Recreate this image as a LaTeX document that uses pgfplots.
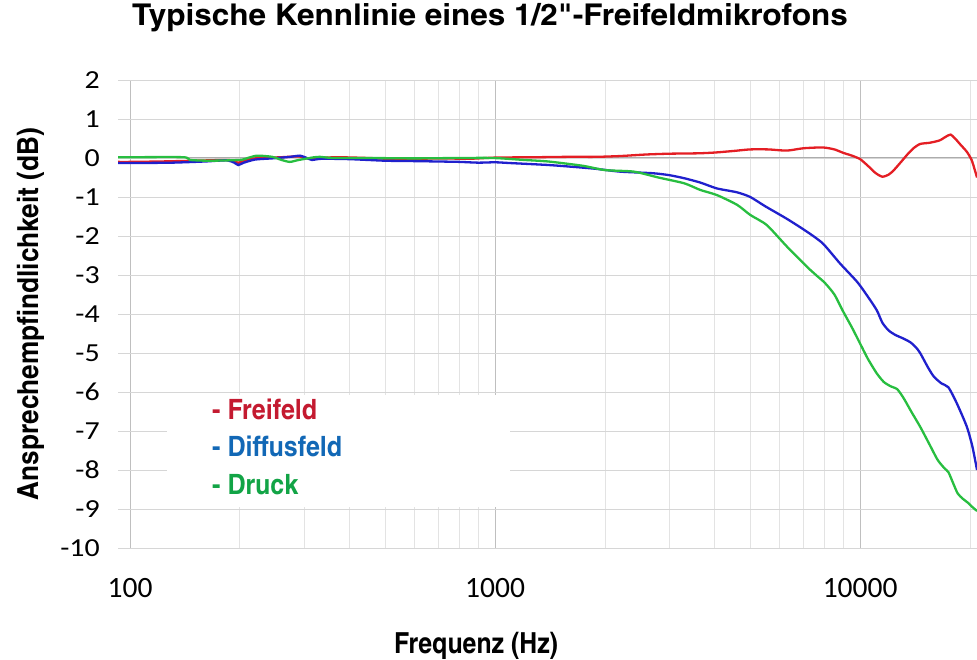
\documentclass[border=0pt]{standalone}
\usepackage{pgfplots}
\pgfplotsset{compat=1.18}
\usepackage{fontspec}
\setmainfont{Carlito}
\newfontfamily\ytickfont{Carlito}[FakeStretch=1.15]
\newfontfamily\condT{TeX Gyre Heros Cn}[FakeStretch=1.28]
\newfontfamily\condY{TeX Gyre Heros Cn}[FakeStretch=1.1]
\newfontfamily\condX{TeX Gyre Heros Cn}[FakeStretch=1.045]
\newfontfamily\condL{TeX Gyre Heros Cn}[FakeStretch=1.09]
\definecolor{cRed}{RGB}{228,30,36}
\definecolor{cBlue}{RGB}{32,32,205}
\definecolor{cGreen}{RGB}{40,190,64}
\definecolor{tRed}{RGB}{196,26,48}
\definecolor{tBlue}{RGB}{18,104,182}
\definecolor{tGreen}{RGB}{18,164,70}
\begin{document}
\begin{tikzpicture}
\useasboundingbox (-118pt,-112pt) rectangle (859pt,548pt);
\begin{axis}[
  at={(0,0)}, anchor=south west,
  scale only axis, width=859pt, height=468pt,
  xmode=log, xmin=92.7, xmax=20900, ymin=-10, ymax=2,
  axis line style={draw=none}, major tick length=0pt, minor tick length=0pt,
  xtick={100,1000,10000}, xticklabels={100,1000,10000},
  minor xtick={200,300,400,500,600,700,800,900,2000,3000,4000,5000,6000,7000,8000,9000,20000},
  ytick={-10,-9,...,2}, yticklabels={-10,-9,-8,-7,-6,-5,-4,-3,-2,-1,0,1,2},
  extra y ticks={0}, extra y tick labels={},
  extra y tick style={grid=major, major grid style={gray!65, line width=1pt}},
  grid=both,
  major grid style={gray!32, line width=0.9pt},
  major x grid style={gray!50, line width=0.9pt},
  minor grid style={gray!22, line width=0.9pt},
  xmajorgrids, ymajorgrids, xminorgrids,
  every x tick label/.append style={font=\fontsize{29.5}{30}\selectfont, inner sep=0pt, anchor=north, yshift=-30pt},
  every y tick label/.append style={font=\ytickfont\fontsize{26}{28}\selectfont, inner sep=0pt, anchor=east, xshift=-18pt},
  xlabel={\condX\bfseries Frequenz (Hz)},
  xlabel style={at={(axis description cs:0.4168,-0.2244)}, anchor=base, font=\fontsize{29}{30}\selectfont},
  ylabel={\condY\bfseries Ansprechempfindlichkeit (dB)},
  ylabel style={at={(axis description cs:-0.092,0.5)}, anchor=base, rotate=0, font=\fontsize{29}{30}\selectfont},
  title={\condT\bfseries Typische Kennlinie eines 1/2"-Freifeldmikrofons},
  title style={at={(axis description cs:0.433,1.1026)}, anchor=base, font=\fontsize{30}{32}\selectfont},
  every axis plot/.append style={line width=2.3pt, smooth, tension=0.4},
]
\addplot[cRed] coordinates {
(92.7,-0.1) (100,-0.1) (120,-0.09) (150,-0.07) (180,-0.05) (190,-0.06) (198,-0.12) (205,-0.08)
(215,-0.02) (230,0.0) (260,0.02) (290,0.04) (310,-0.02) (330,0.0) (370,0.02) (450,0.0)
(550,-0.03) (700,-0.01) (850,-0.02) (1000,0.01) (1300,0.02) (1600,0.03) (1900,0.03)
(2200,0.05) (2600,0.09) (3000,0.11) (3600,0.12) (4000,0.14) (4500,0.18) (5000,0.22)
(5600,0.22) (6300,0.19) (7000,0.25) (7900,0.27) (8500,0.22) (9000,0.13) (9500,0.06)
(10000,-0.03) (10500,-0.2) (11000,-0.38) (11500,-0.48) (12000,-0.42) (12400,-0.3)
(13000,-0.08) (13500,0.1) (14000,0.25) (14600,0.36) (15500,0.39) (16500,0.45)
(17200,0.55) (17700,0.6) (18200,0.5) (18800,0.35) (19600,0.16) (20200,-0.05)
(20600,-0.3) (20900,-0.5)
};
\addplot[cBlue] coordinates {
(92.7,-0.13) (100,-0.13) (130,-0.12) (160,-0.09) (184,-0.06) (193,-0.12) (198,-0.18) (205,-0.12)
(220,-0.04) (245,-0.01) (275,0.03) (292,0.06) (305,0.0) (315,-0.05) (335,-0.02)
(400,-0.03) (500,-0.07) (600,-0.08) (700,-0.09) (800,-0.1) (900,-0.12) (1000,-0.11)
(1100,-0.13) (1400,-0.18) (1700,-0.24) (1900,-0.28) (2200,-0.35) (2700,-0.39)
(3000,-0.44) (3300,-0.52) (3650,-0.63) (4050,-0.78) (4600,-0.88) (5000,-1.0)
(5500,-1.24) (6300,-1.56) (7150,-1.89) (7900,-2.19) (8800,-2.7) (9800,-3.17)
(10400,-3.5) (11100,-3.9) (11500,-4.22) (11960,-4.42) (12500,-4.54) (13000,-4.61)
(13700,-4.72) (14200,-4.85) (14600,-5.0) (15300,-5.35) (15900,-5.6) (16700,-5.78)
(17450,-5.88) (18400,-6.29) (19600,-6.89) (20300,-7.4) (20900,-8.0)
};
\addplot[cGreen] coordinates {
(92.7,0.02) (100,0.02) (140,0.02) (146,-0.05) (165,-0.07) (200,-0.05) (210,0.0) (223,0.06)
(245,0.03) (260,-0.05) (274,-0.1) (290,-0.05) (320,0.02) (331,0.03) (360,0.0)
(450,0.0) (600,-0.01) (800,0.0) (990,0.0) (1200,-0.05) (1400,-0.09) (1740,-0.2)
(2000,-0.31) (2400,-0.35) (2800,-0.5) (3300,-0.65) (3650,-0.82) (4050,-0.95)
(4600,-1.2) (5000,-1.46) (5550,-1.72) (6300,-2.27) (7150,-2.79) (7610,-3.02)
(8000,-3.2) (8500,-3.5) (9000,-3.95) (9500,-4.35) (10000,-4.76) (10500,-5.15)
(11100,-5.52) (11600,-5.74) (12100,-5.85) (12640,-5.93) (13160,-6.16) (13800,-6.5)
(14600,-6.89) (15500,-7.35) (16300,-7.74) (17000,-7.95) (17460,-8.06) (18000,-8.35)
(18500,-8.6) (19070,-8.73) (19800,-8.85) (20300,-8.95) (20900,-9.05)
};
\fill[white] (axis description cs:0.05704,0.08761) rectangle (axis description cs:0.45634,0.32692);
\node[anchor=base west, inner sep=0pt, text=tRed, font=\condL\bfseries\fontsize{28}{28}\selectfont] at (axis description cs:0.10943,0.2735) {- Freifeld};
\node[anchor=base west, inner sep=0pt, text=tBlue, font=\condL\bfseries\fontsize{28}{28}\selectfont] at (axis description cs:0.10943,0.19444) {- Diffusfeld};
\node[anchor=base west, inner sep=0pt, text=tGreen, font=\condL\bfseries\fontsize{28}{28}\selectfont] at (axis description cs:0.10943,0.11325) {- Druck};
\end{axis}
\end{tikzpicture}
\end{document}
